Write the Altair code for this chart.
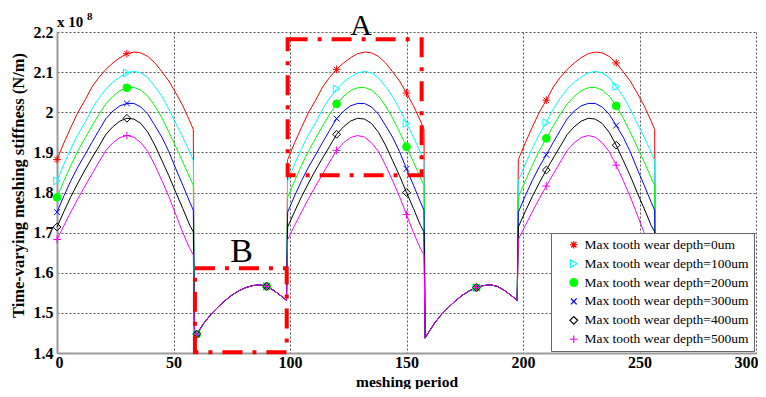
import altair as alt
import pandas as pd

SERIES = [
    "Max tooth wear depth=0um",
    "Max tooth wear depth=100um",
    "Max tooth wear depth=200um",
    "Max tooth wear depth=300um",
    "Max tooth wear depth=400um",
    "Max tooth wear depth=500um",
]
COLORS = ["#ff0000", "#00ffff", "#00ff00", "#0000ff", "#000000", "#ff00ff"]
FILLS = ["transparent", "transparent", "#00ff00", "transparent", "transparent", "transparent"]
STAR = "M-1,0L1,0M0,-1L0,1M-0.7,-0.7L0.7,0.7M-0.7,0.7L0.7,-0.7"
XMARK = "M-0.75,-0.75L0.75,0.75M-0.75,0.75L0.75,-0.75"
PLUS = "M-1,0L1,0M0,-1L0,1"
SHAPES = [STAR, "triangle-right", "circle", XMARK, "diamond", PLUS]

# one meshing period (x in period units, y in 1e8 N/m)
HIGH_X = [0, 3, 6, 9, 12, 15, 18, 21, 24, 27, 30, 33, 36, 39, 42, 45, 48, 51, 54, 57, 58.5]
HIGH_0 = [1.882, 1.924, 1.963, 2.000, 2.030, 2.063, 2.087, 2.107, 2.123, 2.136, 2.146, 2.150,
          2.148, 2.139, 2.123, 2.101, 2.078, 2.048, 2.016, 1.978, 1.957]
HIGH_100 = [1.829, 1.871, 1.910, 1.945, 1.974, 2.008, 2.035, 2.058, 2.075, 2.088, 2.098, 2.102,
            2.098, 2.086, 2.064, 2.040, 2.008, 1.972, 1.938, 1.900, 1.880]
HIGH_200 = [1.788, 1.829, 1.868, 1.904, 1.935, 1.966, 1.995, 2.021, 2.040, 2.054, 2.061, 2.062,
            2.055, 2.040, 2.016, 1.986, 1.951, 1.914, 1.876, 1.837, 1.818]
HIGH_300 = [1.751, 1.792, 1.830, 1.864, 1.894, 1.925, 1.955, 1.984, 2.003, 2.016, 2.022, 2.022,
            2.013, 1.995, 1.967, 1.938, 1.902, 1.859, 1.818, 1.776, 1.756]
HIGH_400 = [1.714, 1.753, 1.790, 1.824, 1.856, 1.886, 1.915, 1.945, 1.964, 1.978, 1.985, 1.983,
            1.972, 1.950, 1.918, 1.880, 1.842, 1.800, 1.760, 1.718, 1.702]
HIGH_500 = [1.683, 1.718, 1.752, 1.785, 1.816, 1.846, 1.876, 1.905, 1.924, 1.937, 1.942, 1.938,
            1.924, 1.902, 1.868, 1.830, 1.790, 1.745, 1.700, 1.660, 1.645]
HIGH = [HIGH_0, HIGH_100, HIGH_200, HIGH_300, HIGH_400, HIGH_500]

LOW_X = [59, 60, 63, 66, 69, 72, 75, 78, 81, 84, 87, 90, 93, 96, 98.5]
LOW_Y = [1.437, 1.447, 1.474, 1.496, 1.514, 1.530, 1.544, 1.555, 1.563, 1.568, 1.570,
         1.566, 1.556, 1.543, 1.531]
PERIOD_STARTS = [0, 99, 198]
MARKER_X = [0, 30, 60, 90, 120, 150, 180, 210, 240]

# annotation boxes (data coordinates)
BOX_X = [99, 59.2]
BOX_X2 = [156.5, 98.6]
BOX_Y = [1.843, 1.402]
BOX_Y2 = [2.182, 1.611]

rows = []
for s, name in enumerate(SERIES):
    i = 0
    for p, start in enumerate(PERIOD_STARTS):
        for rx, ry in zip(HIGH_X, HIGH[s]):
            rows.append({"series": name, "x": round(start + rx, 3), "y": ry, "i": i}); i += 1
        if p < len(PERIOD_STARTS) - 1:
            for rx, ry in zip(LOW_X, LOW_Y):
                rows.append({"series": name, "x": round(start + rx, 3), "y": ry, "i": i}); i += 1
        else:
            rows.append({"series": name, "x": round(start + LOW_X[0], 3), "y": LOW_Y[0], "i": i}); i += 1
df = pd.DataFrame(rows)
df["curve"] = df["series"]
mk = df[df["x"].isin(MARKER_X)]

xs = alt.Scale(domain=[0, 300], nice=False, zero=False)
ys = alt.Scale(domain=[1.4, 2.2], nice=False, zero=False)

lines = alt.Chart(df).mark_line(strokeWidth=1).encode(
    x=alt.X("x:Q", scale=xs, title="meshing period",
            axis=alt.Axis(values=[0, 50, 100, 150, 200, 250, 300], titleY=28, titleBaseline="middle",
                          titleFontSize=15.5, labelFlush=True, labelFlushOffset=2, labelPadding=1)),
    y=alt.Y("y:Q", scale=ys, title="Time-varying meshing stiffness (N/m)",
            axis=alt.Axis(values=[1.4, 1.5, 1.6, 1.7, 1.8, 1.9, 2.0, 2.1, 2.2], format=".1~f",
                          labelFlush=False, labelPadding=4, titleFontSize=16.5,
                          titleX=-39, titleY=153, titleBaseline="middle", titleAlign="center")),
    color=alt.Color("curve:N", sort=SERIES, scale=alt.Scale(range=COLORS), legend=None),
    detail="curve:N",
    order=alt.Order("i:Q"),
)

leg = alt.Legend(
    title=None, orient="bottom-right", offset=2,
    fillColor="white", strokeColor="#666666", padding=5,
    labelFont="Liberation Serif", labelFontSize=13.5, labelColor="black", labelLimit=300,
    symbolSize=60, symbolStrokeWidth=1.2, symbolOffset=11, labelOffset=4, rowPadding=3.9,
)
points = alt.Chart(mk).mark_point(size=60, strokeWidth=1, opacity=1).encode(
    x=alt.X("x:Q", scale=xs),
    y=alt.Y("y:Q", scale=ys),
    stroke=alt.Stroke("series:N", scale=alt.Scale(domain=SERIES, range=COLORS), legend=leg),
    fill=alt.Fill("series:N", scale=alt.Scale(domain=SERIES, range=FILLS), legend=leg),
    shape=alt.Shape("series:N", scale=alt.Scale(domain=SERIES, range=SHAPES), legend=leg),
)

boxes_df = pd.DataFrame({"x": BOX_X, "x2": BOX_X2, "y": BOX_Y, "y2": BOX_Y2})
boxes = alt.Chart(boxes_df).mark_rect(
    fill=None, stroke="#ff0000", strokeWidth=4, strokeDash=[20, 10, 4, 10]
).encode(x=alt.X("x:Q", scale=xs), x2="x2:Q", y=alt.Y("y:Q", scale=ys), y2="y2:Q")

letterA = alt.Chart(pd.DataFrame({"t": ["A"]})).mark_text(
    font="Liberation Serif", fontSize=30, baseline="alphabetic", align="center", color="black"
).encode(text="t:N", x=alt.value(304), y=alt.value(2.5))
letterB = alt.Chart(pd.DataFrame({"t": ["B"]})).mark_text(
    font="Liberation Serif", fontSize=34, baseline="alphabetic", align="center", color="black"
).encode(text="t:N", x=alt.value(184.5), y=alt.value(230))

exp1 = alt.Chart(pd.DataFrame({"t": ["x 10"]})).mark_text(
    font="Liberation Serif", fontSize=15, fontWeight="bold", align="left", baseline="alphabetic", color="black"
).encode(text="t:N", x=alt.value(0), y=alt.value(-5))
exp2 = alt.Chart(pd.DataFrame({"t": ["8"]})).mark_text(
    font="Liberation Serif", fontSize=11, fontWeight="bold", align="left", baseline="alphabetic", color="black"
).encode(text="t:N", x=alt.value(30), y=alt.value(-12))

chart = alt.layer(lines, points, boxes, letterA, letterB, exp1, exp2).properties(
    width=699, height=321,
    autosize=alt.AutoSizeParams(type="none"),
    padding={"left": 49, "top": 24, "right": 2, "bottom": 36},
).configure_view(stroke=None).configure_axis(
    labelFont="Liberation Serif", labelFontWeight="bold", labelFontSize=16, labelColor="black",
    titleFont="Liberation Serif", titleFontWeight="bold", titleFontSize=15, titleColor="black",
    domainColor="#9a9a9a", domainWidth=2, gridColor="#555555", gridDash=[2, 2], gridWidth=1,
    ticks=False,
)

chart.save("out.html", embed_options={"renderer": "svg", "actions": False})
